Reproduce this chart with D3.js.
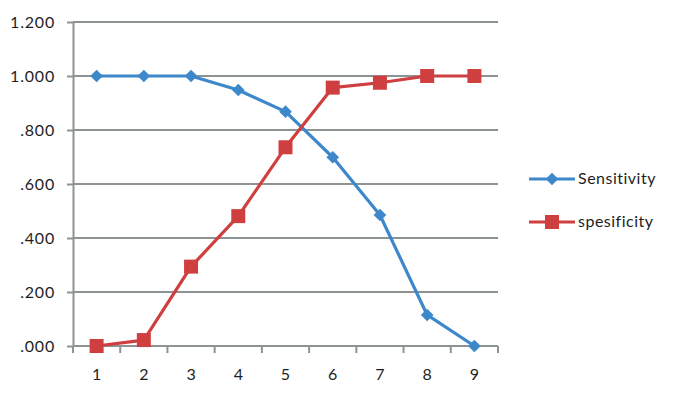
<!DOCTYPE html>
<html>
<head>
<meta charset="utf-8">
<script src="https://cdn.jsdelivr.net/npm/d3@7"></script>
<style>
  body { margin: 0; background: #fff; }
  text { font-family: Lato, "Open Sans", sans-serif; fill: #1e1e1e; }
</style>
</head>
<body>
<svg width="689" height="404"></svg>
<script>
// chart values
const categories = [1, 2, 3, 4, 5, 6, 7, 8, 9];
const sensitivity = [1.0, 1.0, 1.0, 0.948, 0.868, 0.699, 0.485, 0.115, 0.0];
const specificity = [0.0, 0.022, 0.294, 0.481, 0.736, 0.957, 0.975, 1.0, 1.0];
const yTicks = [0, 0.2, 0.4, 0.6, 0.8, 1.0, 1.2];
const seriesNames = ["Sensitivity", "spesificity"];

const svg = d3.select("svg");
const plotLeft = 73, plotRight = 498, plotTop = 22, plotBottom = 346;

const x = d3.scaleBand().domain(categories).range([plotLeft, plotRight]);
const y = d3.scaleLinear().domain([0, 1.2]).range([plotBottom, plotTop]);

const gridColor = "#8d9393";
const fmt = v => v >= 1 ? d3.format(".3f")(v) : d3.format(".3f")(v).replace(/^0/, "");

// horizontal gridlines + y axis
svg.append("g").selectAll("line")
    .data(yTicks)
    .enter().append("line")
    .attr("x1", plotLeft).attr("x2", plotRight)
    .attr("y1", d => y(d)).attr("y2", d => y(d))
    .attr("stroke", gridColor).attr("stroke-width", 2);

const yAxis = svg.append("g")
    .attr("transform", `translate(${plotLeft},0)`)
    .call(d3.axisLeft(y).tickValues(yTicks).tickFormat(fmt).tickSize(6).tickSizeOuter(0));
yAxis.select(".domain").attr("stroke", gridColor).attr("stroke-width", 2);
yAxis.selectAll(".tick line").attr("stroke", gridColor).attr("stroke-width", 2);
yAxis.selectAll(".tick text").attr("x", -18)
    .style("font-size", "16px").style("letter-spacing", "0.8px")
    .style("font-family", "Lato, sans-serif");

// x axis with ticks at category boundaries
const xAxis = svg.append("g")
    .attr("transform", `translate(0,${plotBottom})`)
    .call(d3.axisBottom(x).tickSize(0).tickPadding(23));
xAxis.select(".domain").remove();
xAxis.selectAll(".tick text").style("font-size", "16px").style("font-family", "Lato, sans-serif");
const bounds = categories.map(c => x(c)).concat([plotRight]);
svg.append("g").selectAll("line")
    .data(bounds)
    .enter().append("line")
    .attr("x1", d => d).attr("x2", d => d)
    .attr("y1", plotBottom).attr("y2", plotBottom + 7)
    .attr("stroke", gridColor).attr("stroke-width", 2);

const cx = c => x(c) + x.bandwidth() / 2;

const series = [
    { name: seriesNames[0], values: sensitivity, color: "#3d88cb", symbol: d3.symbolSquare, size: 80, rot: 45 },
    { name: seriesNames[1], values: specificity, color: "#cf3f3f", symbol: d3.symbolSquare, size: 196, rot: 0 }
];

const line = d3.line().x(d => cx(d.c)).y(d => y(d.v));

series.forEach(s => {
    const pts = categories.map((c, i) => ({ c: c, v: s.values[i] }));
    svg.append("path")
        .datum(pts)
        .attr("d", line)
        .attr("fill", "none")
        .attr("stroke", s.color)
        .attr("stroke-width", 3.2)
        .attr("stroke-linejoin", "round");
    svg.append("g").selectAll("path")
        .data(pts)
        .enter().append("path")
        .attr("d", d3.symbol().type(s.symbol).size(s.size))
        .attr("transform", d => `translate(${cx(d.c)},${y(d.v)}) rotate(${s.rot})`)
        .attr("fill", s.color);
});

// legend
const legend = svg.append("g").attr("transform", "translate(529,179)");
series.forEach((s, i) => {
    const g = legend.append("g").attr("transform", `translate(0,${i * 43})`);
    g.append("line").attr("x1", 0).attr("x2", 46).attr("y1", 0).attr("y2", 0)
        .attr("stroke", s.color).attr("stroke-width", 3.2);
    g.append("path")
        .attr("d", d3.symbol().type(s.symbol).size(s.size))
        .attr("transform", `translate(23,0) rotate(${s.rot})`)
        .attr("fill", s.color);
    g.append("text").attr("x", 49).attr("y", 5)
        .style("font-size", "16px")
        .style("letter-spacing", "0.5px")
        .text(s.name);
});
</script>
</body>
</html>
